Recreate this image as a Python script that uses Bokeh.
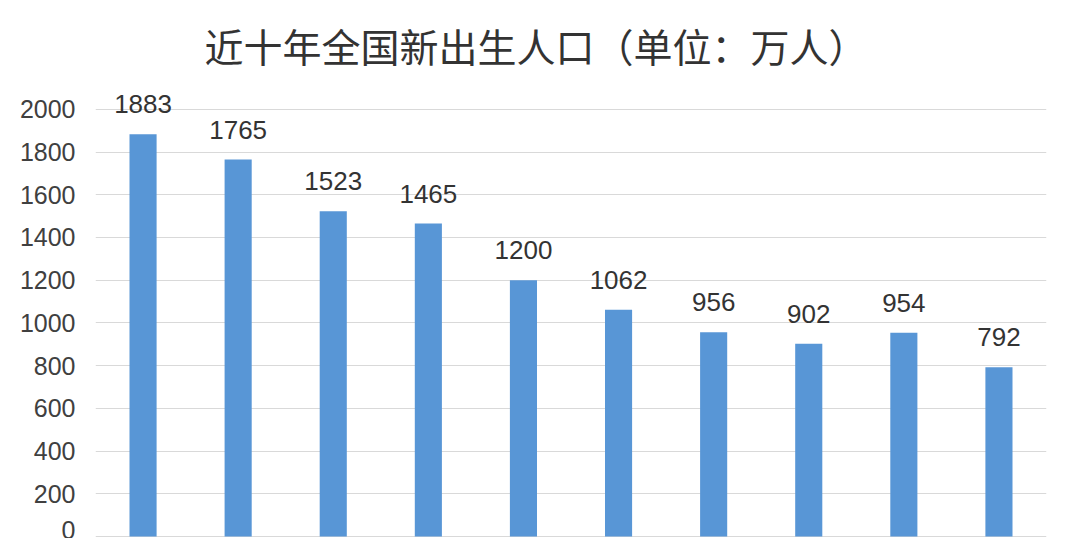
from bokeh.plotting import figure
from bokeh.models import ColumnDataSource, FixedTicker, FactorRange, Range1d
from bokeh.core.properties import value
from bokeh.embed import file_html
from bokeh.resources import INLINE

years = ["2016", "2017", "2018", "2019", "2020", "2021", "2022", "2023", "2024", "2025"]
births = [1883, 1765, 1523, 1465, 1200, 1062, 956, 902, 954, 792]
y_ticks = [0, 200, 400, 600, 800, 1000, 1200, 1400, 1600, 1800, 2000]
title_text = "近十年全国新出生人口（单位：万人）"

source = ColumnDataSource(data=dict(x=years, y=births, label=[str(v) for v in births]))

p = figure(width=1064, height=538, output_backend="svg", toolbar_location=None,
           x_range=FactorRange(*years, range_padding=0), y_range=Range1d(-5, 2107),
           min_border_left=95, min_border_right=18, min_border_top=85, min_border_bottom=1)

p.title.text = title_text
p.title.text_font = "Noto Sans CJK SC"
p.title.text_font_size = "39px"
p.title.text_font_style = "normal"
p.title.text_color = "#333333"
p.title.align = "left"
p.title.offset = 109
p.title.standoff = 28

p.vbar(x="x", top="y", width=0.285, source=source, color="#5896d6", line_color=None)
p.text(x="x", y="y", text="label", source=source, text_align="center", text_baseline="bottom",
       y_offset=-21, text_font=value("Liberation Sans"), text_font_size="26px", text_color="#333333")

p.outline_line_color = None
p.xaxis.visible = False
p.xgrid.grid_line_color = None
p.ygrid.grid_line_color = "#d9d9d9"
p.ygrid.grid_line_width = 1
p.yaxis.ticker = FixedTicker(ticks=y_ticks)
p.ygrid.ticker = FixedTicker(ticks=y_ticks)
p.yaxis.axis_line_color = None
p.yaxis.major_tick_line_color = None
p.yaxis.minor_tick_line_color = None
p.yaxis.major_label_standoff = 14
p.yaxis.major_label_text_font = "Liberation Sans"
p.yaxis.major_label_text_font_size = "25px"
p.yaxis.major_label_text_color = "#404040"

open("out.html", "w").write(file_html(p, INLINE))
